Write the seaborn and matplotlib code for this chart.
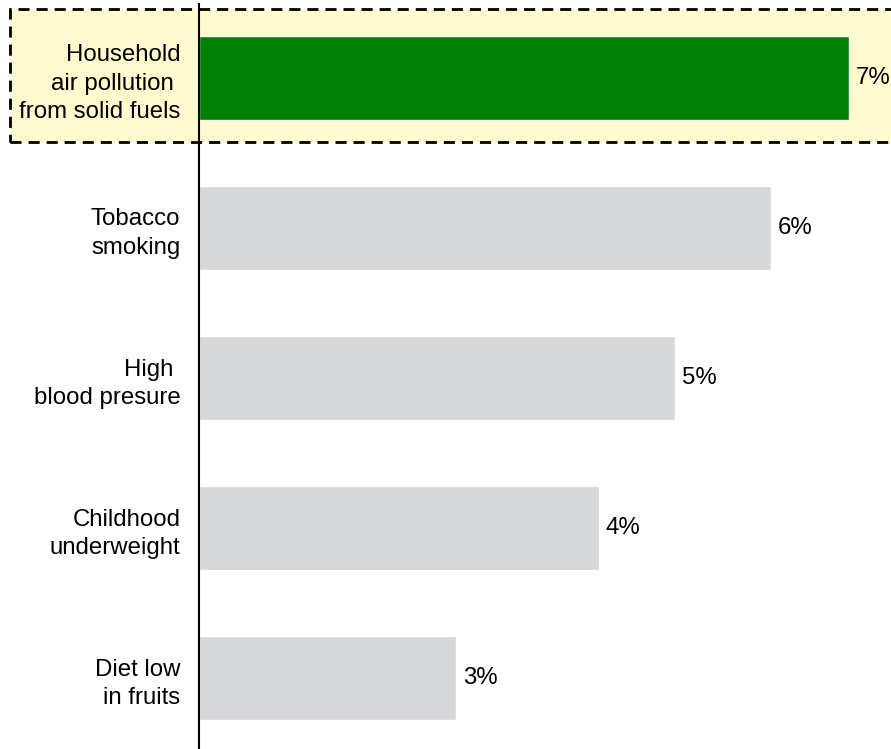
import matplotlib
matplotlib.use("Agg")
import matplotlib.pyplot as plt
from matplotlib.patches import Rectangle
import pandas as pd
import seaborn as sns

sns.set_style("white")
plt.rcParams['font.family'] = ['Liberation Sans', 'DejaVu Sans']
plt.rcParams['text.color'] = 'black'
plt.rcParams['ytick.color'] = 'black'

# risk factors (share of deaths)
categories = ["Household\nair pollution \nfrom solid fuels", "Tobacco\nsmoking",
              "High \nblood presure", "Childhood\nunderweight", "Diet low\nin fruits"]
values = [6.84, 6.02, 5.01, 4.21, 2.71]
labels = ["7%", "6%", "5%", "4%", "3%"]
colors = ["#008000", "#d6d7d9", "#d6d7d9", "#d6d7d9", "#d6d7d9"]

df = pd.DataFrame({"factor": categories, "value": values})

fig = plt.figure(figsize=(8.91, 7.49), dpi=100)
ax = fig.add_axes([199 / 891, 0, 692 / 891, 745 / 749])
ax.set_facecolor("none")

sns.barplot(data=df, x="value", y="factor", hue="factor", palette=colors,
            orient="h", width=0.56, legend=False, ax=ax, saturation=1)

for i, v in enumerate(values):
    ax.text(v + 0.07, i, labels[i], va="center", ha="left", fontsize=17.3, color="black")

ax.set_xlim(0, 7.284)
ax.set_ylim(4.473, -0.493)
ax.set_xlabel("")
ax.set_ylabel("")
ax.set_xticks([])
ax.set_yticks(range(len(categories)), categories, fontsize=17.3,
              linespacing=1.36, multialignment="right", color="black")
ax.tick_params(axis="y", length=0, pad=13.5)
for s in ["top", "right", "bottom"]:
    ax.spines[s].set_visible(False)
ax.spines["left"].set_color("black")
ax.spines["left"].set_linewidth(1.5)

# highlight box around the top row
box = Rectangle((10 / 891, 1 - 142 / 749), 900 / 891, 133 / 749,
                transform=fig.transFigure, facecolor="#fffacd",
                edgecolor="black", linestyle=(0, (4, 2.5)), linewidth=2,
                zorder=-1)
fig.patches.append(box)

fig.savefig("out.png", dpi=100)
